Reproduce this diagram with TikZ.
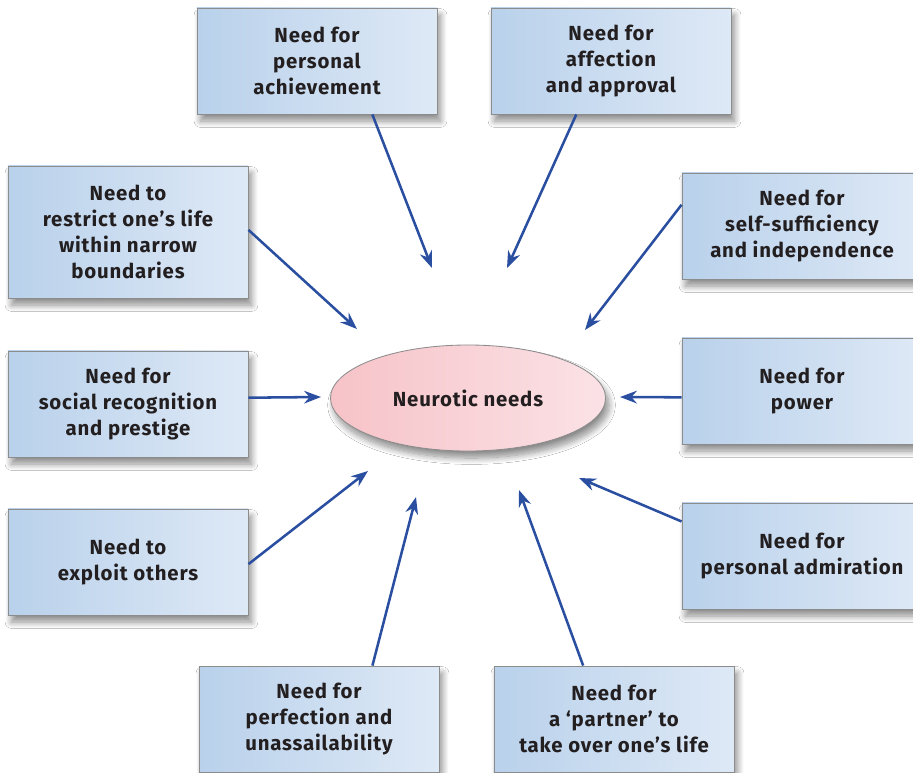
\documentclass[tikz,border=0pt]{standalone}
\usepackage{fontspec}
\setmainfont{Fira Sans}
\usepackage{xcolor}
\definecolor{boxleft}{HTML}{B9D1EB}
\definecolor{boxright}{HTML}{DEE9F6}
\definecolor{boxline}{HTML}{8C8C8C}
\definecolor{pinkleft}{HTML}{F6C3C8}
\definecolor{pinkright}{HTML}{FBE2E6}
\definecolor{arrowblue}{HTML}{2B4FA0}
\definecolor{inkgrey}{HTML}{231F20}
\newfontfamily\labelfont[LetterSpace=4]{Fira Sans}
\usepackage{tikz}
\usetikzlibrary{shapes.geometric, arrows.meta, shadows.blur}

\begin{document}
\begin{tikzpicture}[
  x=0.025cm, y=-0.025cm,
  need/.style={rectangle, draw=boxline, line width=0.6pt,
               left color=boxleft, right color=boxright,
               minimum width=6cm, minimum height=2.65cm, align=center,
               text=inkgrey, font=\labelfont\fontsize{14.5}{18.3}\selectfont\bfseries,
               blur shadow={shadow xshift=2.5pt, shadow yshift=-5pt,
                            shadow blur radius=4.5pt, shadow blur steps=12,
                            shadow opacity=45}},
  hub/.style={ellipse, draw=boxline, line width=0.6pt,
              left color=pinkleft, right color=pinkright,
              minimum width=6.875cm, minimum height=2.65cm,
              text=inkgrey, font=\labelfont\fontsize{14.5}{18.3}\selectfont\bfseries,
              blur shadow={shadow xshift=2.5pt, shadow yshift=-5pt,
                           shadow blur radius=4.5pt, shadow blur steps=12,
                           shadow opacity=45}},
  arrow/.style={-{Stealth[length=12pt, width=9pt]}, draw=arrowblue,
                line width=1.8pt},
]

\useasboundingbox (0,0) rectangle (913,772);
\clip (0,0) rectangle (913,772);
\fill[white] (0,0) rectangle (913,772);

\node[hub] (neurotic) at (468,398) {Neurotic needs};

\node[need] (achieve)  at (317,61)  {Need for\\personal\\achievement};
\node[need] (affect)   at (611,61)  {Need for\\affection\\and approval};
\node[need, minimum height=3.3cm]
            (restrict) at (128,232) {Need to\\restrict one’s life\\within narrow\\boundaries};
\node[need] (selfsuff) at (802,226) {Need for\\self-sufficiency\\and independence};
\node[need] (recog)    at (128,404) {Need for\\social recognition\\and prestige};
\node[need] (power)    at (802,391) {Need for\\power};
\node[need] (exploit)  at (128,562) {Need to\\exploit others};
\node[need] (admire)   at (802,556) {Need for\\personal admiration};
\node[need] (perfect)  at (319,719) {Need for\\perfection and\\unassailability};
\node[need] (partner)  at (614,719) {Need for\\a ‘partner’ to\\take over one’s life};

% arrow tips stop short of the ellipse
\coordinate (achieve-tip)  at (432,268);
\coordinate (affect-tip)   at (507,268);
\coordinate (restrict-tip) at (357,329);
\coordinate (selfsuff-tip) at (585,330);
\coordinate (recog-tip)    at (321,397);
\coordinate (power-tip)    at (620,397);
\coordinate (exploit-tip)  at (368,471);
\coordinate (admire-tip)   at (579,478);
\coordinate (perfect-tip)  at (416,497);
\coordinate (partner-tip)  at (519,490);

\draw[arrow] (achieve.-44)   -- (achieve-tip);
\draw[arrow] (affect.-123)   -- (affect-tip);
\draw[arrow] (restrict.1)    -- (restrict-tip);
\draw[arrow] (selfsuff.170)  -- (selfsuff-tip);
\draw[arrow] (recog.3)       -- (recog-tip);
\draw[arrow] (power.183)     -- (power-tip);
\draw[arrow] (exploit.-1)    -- (exploit-tip);
\draw[arrow] (admire.164)    -- (admire-tip);
\draw[arrow] (perfect.45)    -- (perfect-tip);
\draw[arrow] (partner.120)   -- (partner-tip);

\end{tikzpicture}
\end{document}
